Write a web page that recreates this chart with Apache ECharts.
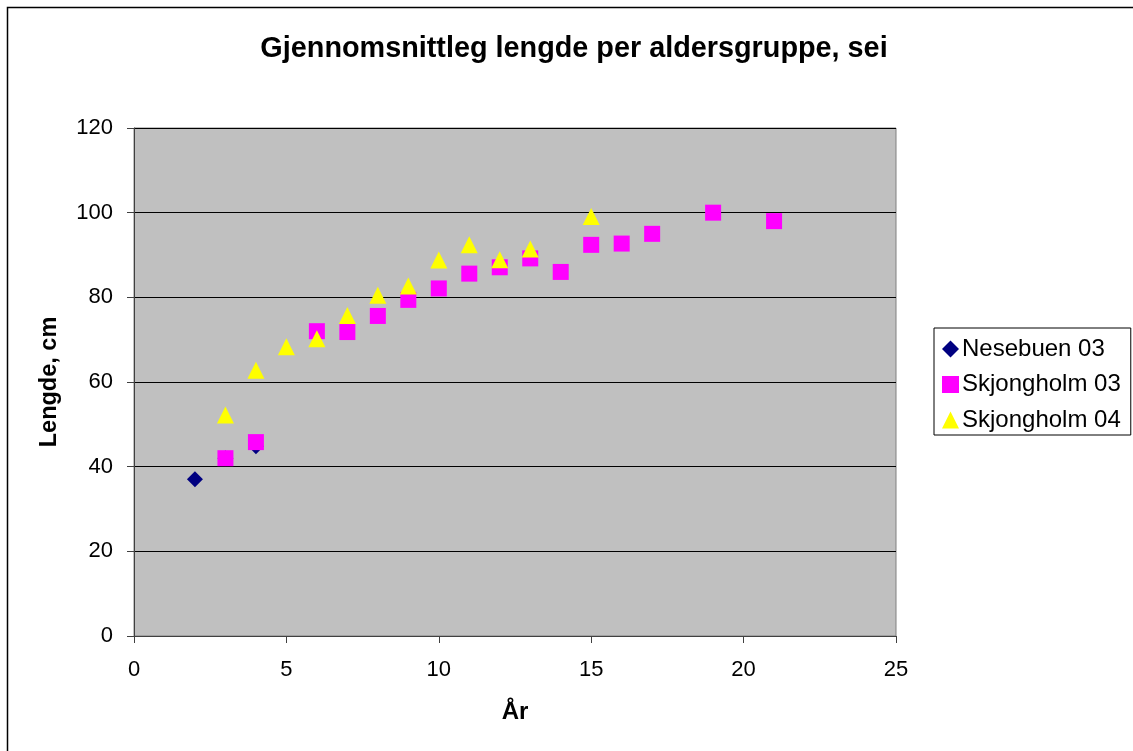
<!DOCTYPE html>
<html>
<head>
<meta charset="utf-8">
<script src="https://cdn.jsdelivr.net/npm/echarts@6/dist/echarts.min.js"></script>
<style>html,body{margin:0;padding:0;background:#fff}#c{width:1133px;height:751px}</style>
</head>
<body>
<div id="c"></div>
<script>
var titleText = 'Gjennomsnittleg lengde per aldersgruppe, sei';
var xName = 'År';
var yName = 'Lengde, cm';
var seriesNames = ['Nesebuen 03', 'Skjongholm 03', 'Skjongholm 04'];
var nesebuenX = [2, 3, 4];
var nesebuenY = [37, 42, 44.8];
var sk03X = [3, 4, 6, 7, 8, 9, 10, 11, 12, 13, 14, 15, 16, 17, 19, 21];
var sk03Y = [42, 45.8, 72, 71.8, 75.6, 79.4, 82.1, 85.6, 87.1, 89.2, 86, 92.4, 92.7, 95, 100, 98];
var sk04X = [3, 4, 5, 6, 7, 8, 9, 10, 11, 12, 13, 15];
var sk04Y = [52.2, 62.8, 68.3, 70.2, 75.7, 80.5, 82.7, 88.8, 92.4, 88.9, 91.4, 99.1];
var xTicks = [0, 5, 10, 15, 20, 25];
var yTicks = [0, 20, 40, 60, 80, 100, 120];

function pairs(xs, ys) { return xs.map(function (x, i) { return [x, ys[i]]; }); }
var FONT = '"Liberation Sans", Arial, sans-serif';
var chart = echarts.init(document.getElementById('c'), null, { renderer: 'canvas' });
chart.setOption({
  animation: false,
  backgroundColor: '#ffffff',
  textStyle: { fontFamily: FONT },
  grid: {
    left: 134, top: 128, width: 762, height: 508,
    show: true, backgroundColor: '#c0c0c0', borderColor: '#808080', borderWidth: 1
  },
  xAxis: {
    type: 'value', min: xTicks[0], max: xTicks[xTicks.length - 1], interval: 5,
    axisLine: { show: true, lineStyle: { color: '#404040', width: 1 } },
    axisTick: { show: true, inside: false, length: 7, lineStyle: { color: '#404040' } },
    axisLabel: { color: '#000', fontSize: 22, fontFamily: FONT, margin: 23 },
    splitLine: { show: false }
  },
  yAxis: {
    type: 'value', min: yTicks[0], max: yTicks[yTicks.length - 1], interval: 20,
    axisLine: { show: true, lineStyle: { color: '#404040', width: 1 } },
    axisTick: { show: true, inside: false, length: 7, lineStyle: { color: '#404040' } },
    axisLabel: { color: '#000', fontSize: 22, fontFamily: FONT, margin: 21 },
    splitLine: { show: true, lineStyle: { color: '#000', width: 1 } }
  },
  legend: {
    orient: 'vertical', left: 934, top: 328,
    borderColor: '#000', borderWidth: 1, borderRadius: 0,
    padding: [9, 10, 3, 8],
    itemWidth: 17, itemHeight: 17, itemGap: 11.5,
    textStyle: { color: '#000', fontSize: 24, fontFamily: FONT, padding: [0, 0, 0, -2] },
    data: [
      { name: seriesNames[0], icon: 'diamond' },
      { name: seriesNames[1], icon: 'rect' },
      { name: seriesNames[2], icon: 'triangle' }
    ]
  },
  graphic: [
    { type: 'rect', shape: { x: 7.5, y: 7.5, width: 1300, height: 900 }, style: { fill: 'none', stroke: '#000', lineWidth: 1.5 }, silent: true },
    { type: 'text', x: 574, y: 49, style: { text: titleText, fontSize: 28.8, fontWeight: 'bold', fontFamily: FONT, fill: '#000', align: 'center', verticalAlign: 'middle' } },
    { type: 'text', x: 515, y: 712, style: { text: xName, fontSize: 24, fontWeight: 'bold', fontFamily: FONT, fill: '#000', align: 'center', verticalAlign: 'middle' } },
    { type: 'text', x: 50, y: 382, rotation: Math.PI / 2, style: { text: yName, fontSize: 23.5, fontWeight: 'bold', fontFamily: FONT, fill: '#000', align: 'center', verticalAlign: 'middle' } }
  ],
  series: [
    { name: seriesNames[0], type: 'scatter', symbol: 'diamond', symbolSize: 16, itemStyle: { color: '#000080', opacity: 1 }, data: pairs(nesebuenX, nesebuenY) },
    { name: seriesNames[1], type: 'scatter', symbol: 'rect', symbolSize: 16, itemStyle: { color: '#ff00ff', opacity: 1 }, data: pairs(sk03X, sk03Y) },
    { name: seriesNames[2], type: 'scatter', symbol: 'triangle', symbolSize: [17, 17], itemStyle: { color: '#ffff00', opacity: 1 }, data: pairs(sk04X, sk04Y) }
  ]
});
</script>
</body>
</html>
